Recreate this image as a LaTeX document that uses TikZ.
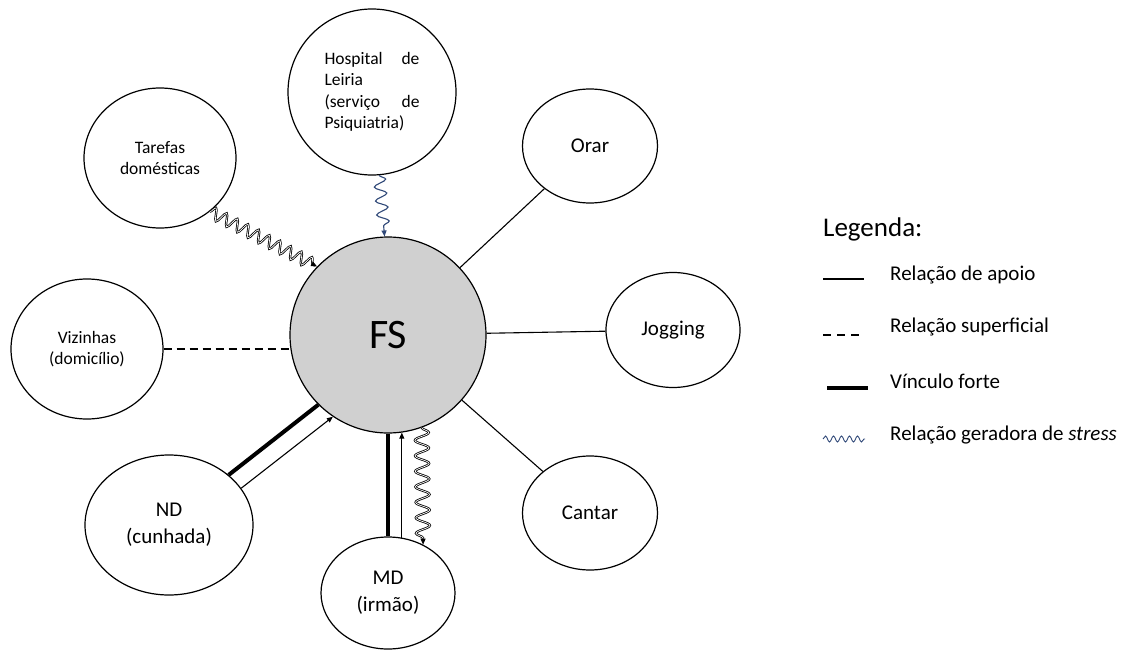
\documentclass[tikz,border=0pt]{standalone}
\usepackage{fontspec}
\setmainfont{Carlito}
\usetikzlibrary{shapes.geometric,arrows.meta,decorations.pathmorphing}
\definecolor{fsgray}{RGB}{208,208,208}
\definecolor{stressblue}{RGB}{47,72,120}
\begin{document}
\begin{tikzpicture}[x=1pt,y=-1pt,
  bub/.style={ellipse, draw, line width=1.2pt, inner sep=0pt, align=center},
  smalltxt/.style={font=\fontsize{17.5}{21.5}\selectfont},
  bigtxt/.style={font=\fontsize{21}{27}\selectfont},
  legtxt/.style={font=\fontsize{21}{24}\selectfont, anchor=base west, inner sep=0pt},
  conn/.style={line width=1.1pt},
  strong/.style={line width=4pt},
  arrowend/.style={-{Triangle[length=6pt,width=5pt]}},
  stress/.style={decorate, decoration={snake, amplitude=6pt, segment length=12pt, post length=4pt}},
  hollow/.style={double=white, double distance=0.7pt, line width=0.8pt}
]
\useasboundingbox (0,0) rectangle (1121,650);

% central node
\node[circle, draw, line width=1.2pt, fill=fsgray, inner sep=0pt, minimum size=196pt,
      font=\fontsize{42}{50}\selectfont] (fs) at (388,335) {FS};

% surrounding nodes
\node[bub, smalltxt, minimum width=168pt, minimum height=166pt] (hosp) at (372,92)
  {\hbox to 95pt{Hospital\hfill de}\\\hbox to 95pt{Leiria\hfill}\\\hbox to 95pt{(serviço\hfill de}\\\hbox to 95pt{Psiquiatria)\hfill}};
\node[bub, smalltxt, minimum width=152pt, minimum height=140pt] (tar) at (160,158) {Tarefas\\domésticas};
\node[bub, smalltxt, minimum width=152pt, minimum height=140pt] (viz) at (87,349) {Vizinhas\\(domicílio)};
\node[bub, bigtxt, minimum width=135pt, minimum height=114pt] (orar) at (590,146) {Orar};
\node[bub, bigtxt, minimum width=134pt, minimum height=115pt] (jog) at (673,330) {Jogging};
\node[bub, bigtxt, minimum width=135pt, minimum height=114pt] (cant) at (590,513) {Cantar};
\node[bub, bigtxt, minimum width=168pt, minimum height=140pt] (nd) at (169,525) {ND\\(cunhada)};
\node[bub, bigtxt, minimum width=134pt, minimum height=112pt] (md) at (388,593) {MD\\(irmão)};

% connectors
\draw[conn] (fs) -- (orar);
\draw[conn] (fs) -- (jog);
\draw[conn] (fs) -- (cant);
\draw[conn, dash pattern=on 8pt off 5pt] (viz.east) -- (viz.east -| fs.west);
\draw[stress, hollow, arrowend] (tar.-47) -- (fs.136);
\draw[stress, arrowend, line width=1.1pt, draw=stressblue, decoration={segment length=14pt, amplitude=6pt}] (hosp.-85) -- (fs.92);
\draw[strong] (nd.40) -- (fs.225);
\draw[conn, arrowend] (nd.27) -- (fs.236);
\draw[strong] (fs.south) -- (md.north);
\draw[conn, arrowend] (md.76) -- (md.76 |- fs.-82);
\draw[stress, hollow, arrowend, decoration={segment length=15.5pt, amplitude=7pt}] (fs.-70) -- (md.54);

% legend
\node[font=\fontsize{27}{30}\selectfont, anchor=base west, inner sep=0pt] (leg) at (823,236) {Legenda:};
\coordinate (l1a) at (823,279); \coordinate (l1b) at (864,279);
\coordinate (l2a) at (823,335); \coordinate (l2b) at (864,335);
\coordinate (l3a) at (827,388); \coordinate (l3b) at (868,388);
\coordinate (l4a) at (823,439); \coordinate (l4b) at (865,439);
\draw[conn] (l1a) -- (l1b);
\draw[conn, dash pattern=on 8pt off 6pt] (l2a) -- (l2b);
\draw[line width=3.5pt] (l3a) -- (l3b);
\draw[stressblue, line width=0.9pt, decorate, decoration={snake, amplitude=3pt, segment length=8pt}] (l4a) -- (l4b);
\node[legtxt] (t1) at (890,280) {Relação de apoio};
\node[legtxt] (t2) at (890,332) {Relação superficial};
\node[legtxt] (t3) at (890,388) {Vínculo forte};
\node[legtxt] (t4) at (890,440) {Relação geradora de \textit{stress}};
\end{tikzpicture}
\end{document}
